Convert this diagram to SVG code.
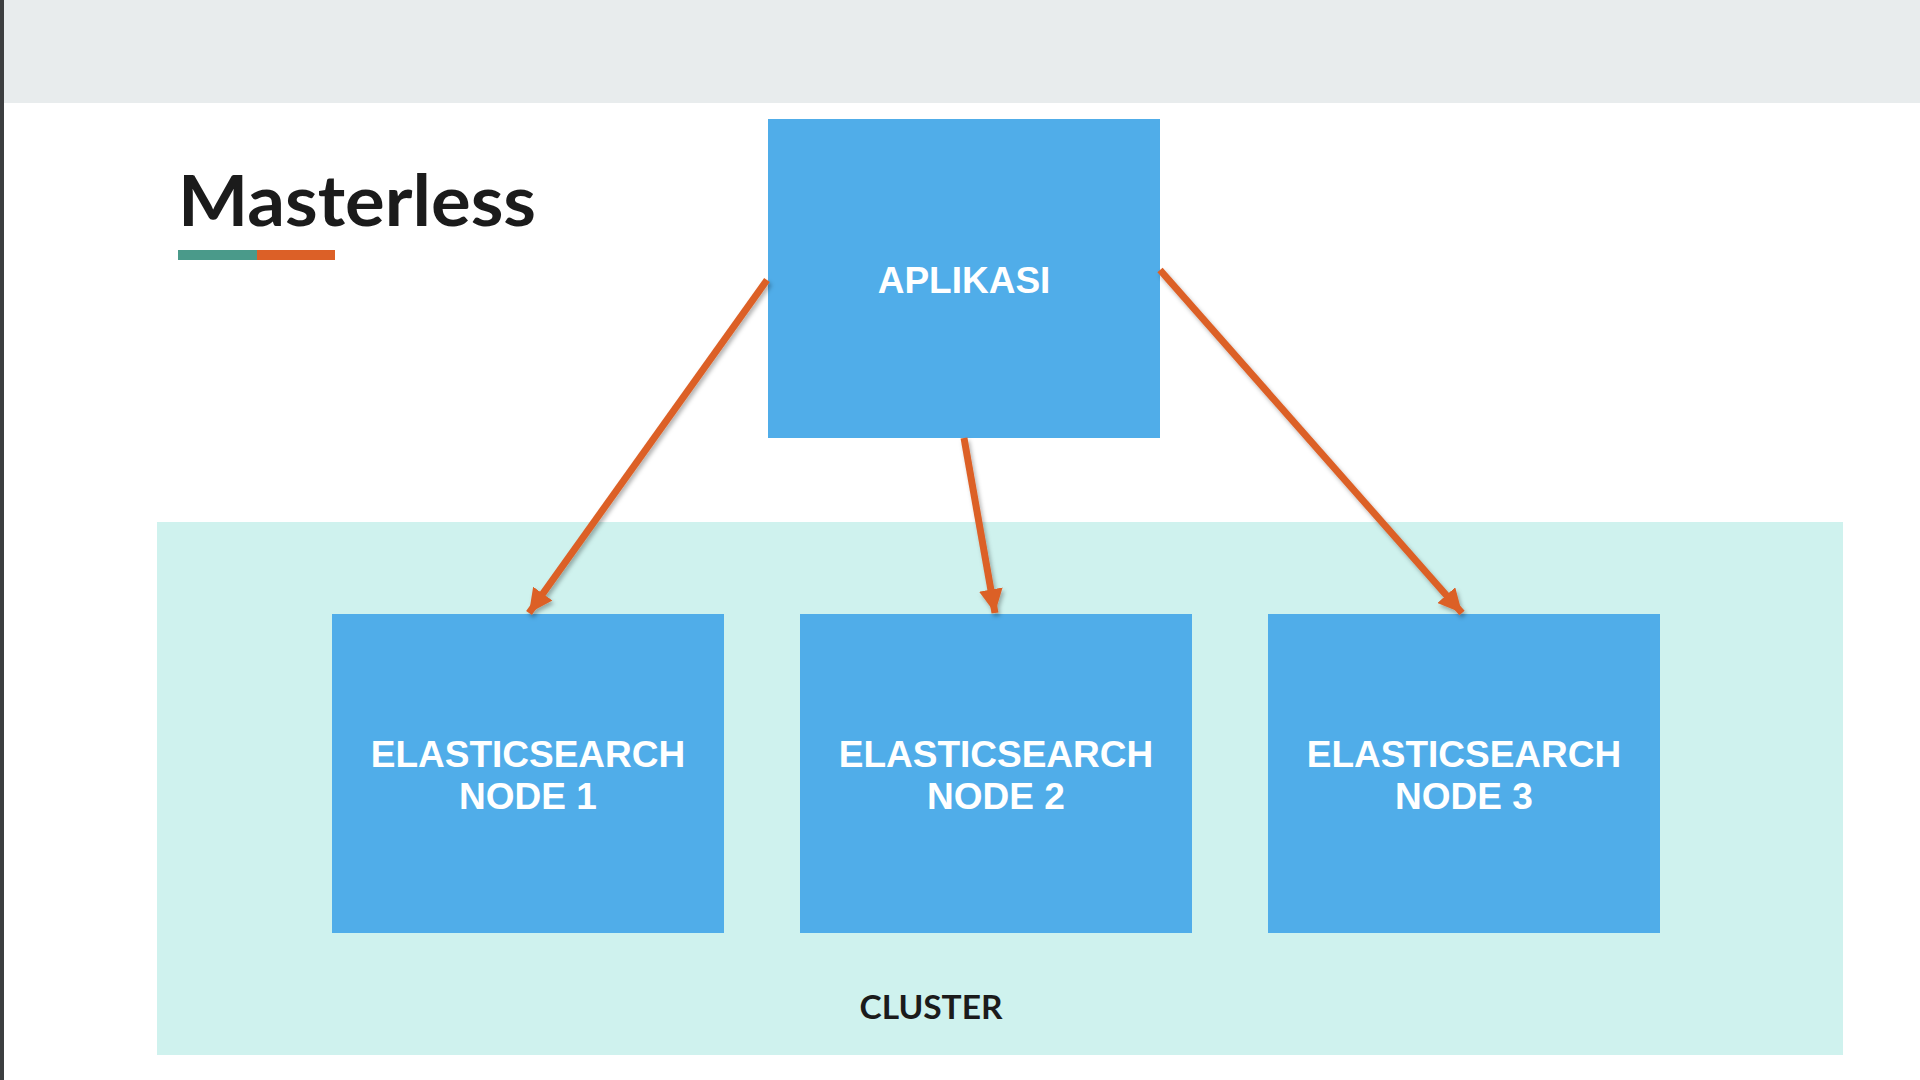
<svg xmlns="http://www.w3.org/2000/svg" width="1920" height="1080" viewBox="0 0 1920 1080">
<defs>
<style>
.box{fill:#50ade9}
.lbl{font-family:"Liberation Sans",Arial,sans-serif;font-weight:bold;font-size:37px;fill:#ffffff;text-anchor:middle}
.conn{stroke:#dc6027;stroke-width:7;fill:none;marker-end:url(#ah)}
</style>
<marker id="ah" viewBox="0 0 10 10" refX="10" refY="5" markerWidth="3.4" markerHeight="3.4" markerUnits="strokeWidth" orient="auto">
<path d="M0,0 L10,5 L0,10 z" fill="#dc6027"/>
</marker>
<filter id="sh" x="-20%" y="-20%" width="140%" height="140%">
<feDropShadow dx="2" dy="3" stdDeviation="2" flood-color="#000" flood-opacity="0.3"/>
</filter>
</defs>
<rect x="0" y="0" width="1920" height="1080" fill="#ffffff"/>
<rect x="0" y="0" width="1920" height="103" fill="#e8eced"/>
<rect x="0" y="0" width="4" height="1080" fill="#3c3e40"/>
<g id="title">
<text x="178" y="226" font-family="Lato, 'Open Sans', sans-serif" font-weight="bold" font-size="70" fill="#1b1b1b" textLength="358" lengthAdjust="spacingAndGlyphs">Masterless</text>
<rect x="178" y="250" width="79" height="10" fill="#4a9a8a"/>
<rect x="257" y="250" width="78" height="10" fill="#dc6027"/>
</g>
<g id="cluster">
<rect x="157" y="522" width="1686" height="533" fill="#cff2ee"/>
<text x="931" y="1019" font-family="Lato, 'Open Sans', sans-serif" font-weight="bold" font-size="32" fill="#1b1b1b" text-anchor="middle" textLength="143" lengthAdjust="spacingAndGlyphs">CLUSTER</text>
</g>
<g id="aplikasi">
<rect class="box" x="768" y="119" width="392" height="319"/>
<text class="lbl" x="964" y="293">APLIKASI</text>
</g>
<g id="node1">
<rect class="box" x="332" y="614" width="392" height="319"/>
<text class="lbl" x="528" y="767">ELASTICSEARCH</text>
<text class="lbl" x="528" y="809">NODE 1</text>
</g>
<g id="node2">
<rect class="box" x="800" y="614" width="392" height="319"/>
<text class="lbl" x="996" y="767">ELASTICSEARCH</text>
<text class="lbl" x="996" y="809">NODE 2</text>
</g>
<g id="node3">
<rect class="box" x="1268" y="614" width="392" height="319"/>
<text class="lbl" x="1464" y="767">ELASTICSEARCH</text>
<text class="lbl" x="1464" y="809">NODE 3</text>
</g>
<g id="connectors" filter="url(#sh)">
<line class="conn" x1="767" y1="280" x2="529" y2="613"/>
<line class="conn" x1="964" y1="438" x2="995" y2="613"/>
<line class="conn" x1="1160" y1="270" x2="1462" y2="613"/>
</g>
</svg>
